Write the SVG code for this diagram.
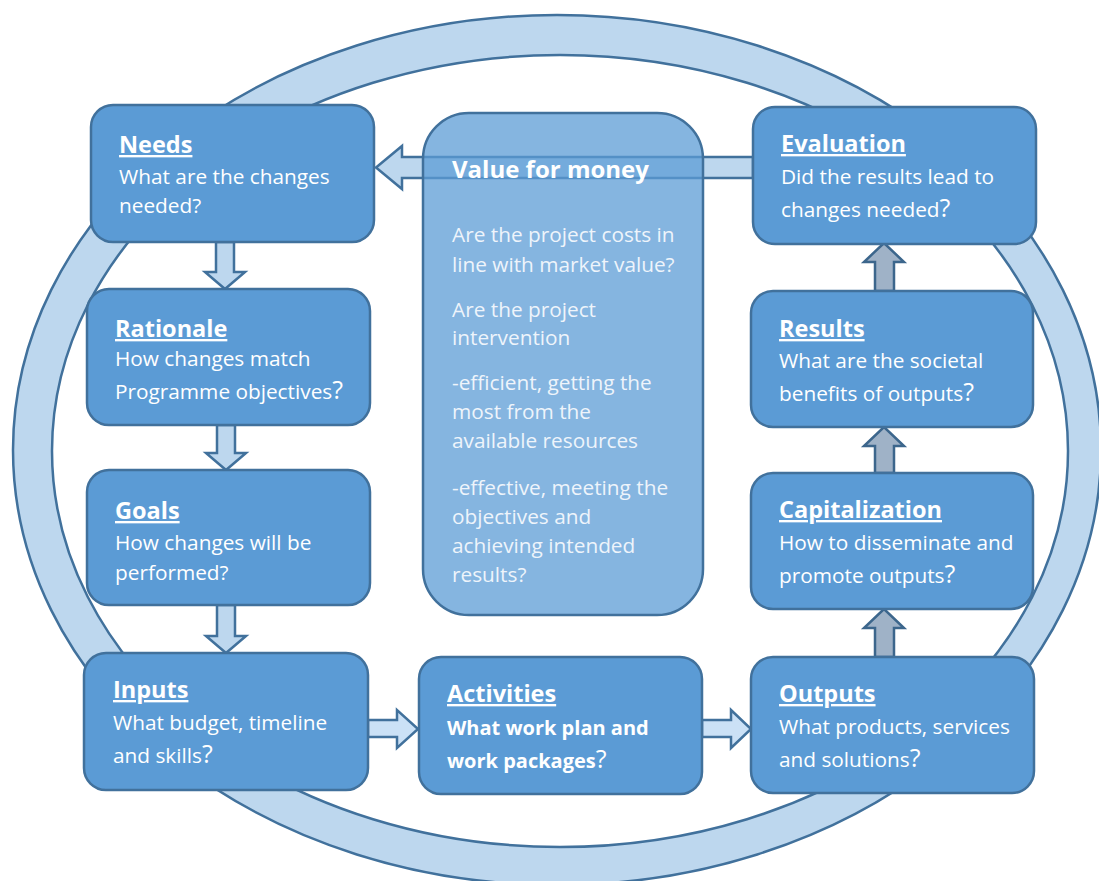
<svg xmlns="http://www.w3.org/2000/svg" width="1099" height="881" viewBox="0 0 1099 881">
<style>
.ring{fill:#bdd7ee;stroke:#41719c;stroke-width:2.5;fill-rule:evenodd}
.node{fill:#5b9bd5;stroke:#41719c;stroke-width:2.5}
.vbox{fill:#5b9bd5;fill-opacity:0.74;stroke:#41719c;stroke-width:2.5}
.ttl{font-family:"Open Sans","DejaVu Sans",sans-serif;font-size:23.5px;font-weight:bold;fill:#ffffff;text-decoration:underline}
.vt{font-family:"Open Sans","DejaVu Sans",sans-serif;font-size:24px;font-weight:bold;fill:#ffffff}
.bd{font-family:"Open Sans","DejaVu Sans",sans-serif;font-size:20.8px;fill:#ffffff}
.bb{font-family:"Open Sans","DejaVu Sans",sans-serif;font-size:20px;font-weight:bold;fill:#ffffff}
.vb{font-family:"Open Sans","DejaVu Sans",sans-serif;font-size:20.8px;fill:#eef4fb}
.q{font-size:25px;font-weight:normal}
.ad{fill:#bdd7ee;stroke:#41719c;stroke-width:2.5;stroke-linejoin:miter}
.ar{fill:#cbe1f6;stroke:#41719c;stroke-width:2.5}
.au{fill:#9fb2c7;stroke:#3c668c;stroke-width:2.5}
.al{fill:#bdd7ee;stroke:#41719c;stroke-width:2.5}
</style>
<g id="cycle-ring">
<path class="ring" d="M13,450 a544,435 0 1,0 1088,0 a544,435 0 1,0 -1088,0 Z M52,451 a508,396 0 1,0 1016,0 a508,396 0 1,0 -1016,0 Z"/>
</g>
<g id="connectors">
<polygon class="al" points="753,157 402,157 402,146 376,167.5 402,189 402,178 753,178"/>
<polygon class="ad" points="216,242 234,242 234,272 245,272 225,289 205,272 216,272"/>
<polygon class="ad" points="217,425 235,425 235,453 246,453 226,470 206,453 217,453"/>
<polygon class="ad" points="217,605 235,605 235,636 246,636 226,653 206,636 217,636"/>
<polygon class="au" points="875,291 894,291 894,262 904,262 884,243 864,262 875,262"/>
<polygon class="au" points="875,473 894,473 894,446 904,446 884,427 864,446 875,446"/>
<polygon class="au" points="875,657 894,657 894,628 904,628 884,609 864,628 875,628"/>
<polygon class="ar" points="368,720 397,720 397,710 418,729 397,748 397,737 368,737"/>
<polygon class="ar" points="702,720 731,720 731,710 751,729 731,748 731,737 702,737"/>
</g>
<g id="value-for-money">
<rect class="vbox" x="423" y="113" width="280" height="502" rx="46" ry="46"/>
<text class="vt" x="452" y="178">Value for money</text>
<text class="vb" x="452" y="242">Are the project costs in</text>
<text class="vb" x="452" y="272">line with market value?</text>
<text class="vb" x="452" y="317">Are the project</text>
<text class="vb" x="452" y="345">intervention</text>
<text class="vb" x="452" y="390">-efficient, getting the</text>
<text class="vb" x="452" y="419">most from the</text>
<text class="vb" x="452" y="448">available resources</text>
<text class="vb" x="452" y="495">-effective, meeting the</text>
<text class="vb" x="452" y="524">objectives and</text>
<text class="vb" x="452" y="553">achieving intended</text>
<text class="vb" x="452" y="582">results?</text>
</g>
<g id="needs">
<rect class="node" x="91" y="105" width="283" height="137" rx="22"/>
<text class="ttl" x="119" y="153">Needs</text>
<text class="bd" x="119" y="184">What are the changes</text>
<text class="bd" x="119" y="213">needed?</text>
</g>
<g id="rationale">
<rect class="node" x="87" y="289" width="283" height="136" rx="22"/>
<text class="ttl" x="115" y="337">Rationale</text>
<text class="bd" x="115" y="366">How changes match</text>
<text class="bd" x="115" y="399">Programme objectives<tspan class="q">?</tspan></text>
</g>
<g id="goals">
<rect class="node" x="87" y="470" width="283" height="135" rx="22"/>
<text class="ttl" x="115" y="519">Goals</text>
<text class="bd" x="115" y="550">How changes will be</text>
<text class="bd" x="115" y="580">performed?</text>
</g>
<g id="inputs">
<rect class="node" x="84" y="653" width="284" height="137" rx="22"/>
<text class="ttl" x="113" y="698">Inputs</text>
<text class="bd" x="113" y="730">What budget, timeline</text>
<text class="bd" x="113" y="763">and skills<tspan class="q">?</tspan></text>
</g>
<g id="activities">
<rect class="node" x="419" y="657" width="283" height="137" rx="22"/>
<text class="ttl" x="447" y="702">Activities</text>
<text class="bb" x="447" y="735">What work plan and</text>
<text class="bb" x="447" y="768">work packages<tspan class="q">?</tspan></text>
</g>
<g id="outputs">
<rect class="node" x="751" y="657" width="283" height="136" rx="22"/>
<text class="ttl" x="779" y="702">Outputs</text>
<text class="bd" x="779" y="734">What products, services</text>
<text class="bd" x="779" y="767">and solutions<tspan class="q">?</tspan></text>
</g>
<g id="capitalization">
<rect class="node" x="751" y="473" width="282" height="136" rx="22"/>
<text class="ttl" x="779" y="518">Capitalization</text>
<text class="bd" x="779" y="550">How to disseminate and</text>
<text class="bd" x="779" y="583">promote outputs<tspan class="q">?</tspan></text>
</g>
<g id="results">
<rect class="node" x="751" y="291" width="282" height="136" rx="22"/>
<text class="ttl" x="779" y="337">Results</text>
<text class="bd" x="779" y="368">What are the societal</text>
<text class="bd" x="779" y="401">benefits of outputs<tspan class="q">?</tspan></text>
</g>
<g id="evaluation">
<rect class="node" x="753" y="107" width="283" height="137" rx="22"/>
<text class="ttl" x="781" y="152">Evaluation</text>
<text class="bd" x="781" y="184">Did the results lead to</text>
<text class="bd" x="781" y="217">changes needed<tspan class="q">?</tspan></text>
</g>
</svg>
